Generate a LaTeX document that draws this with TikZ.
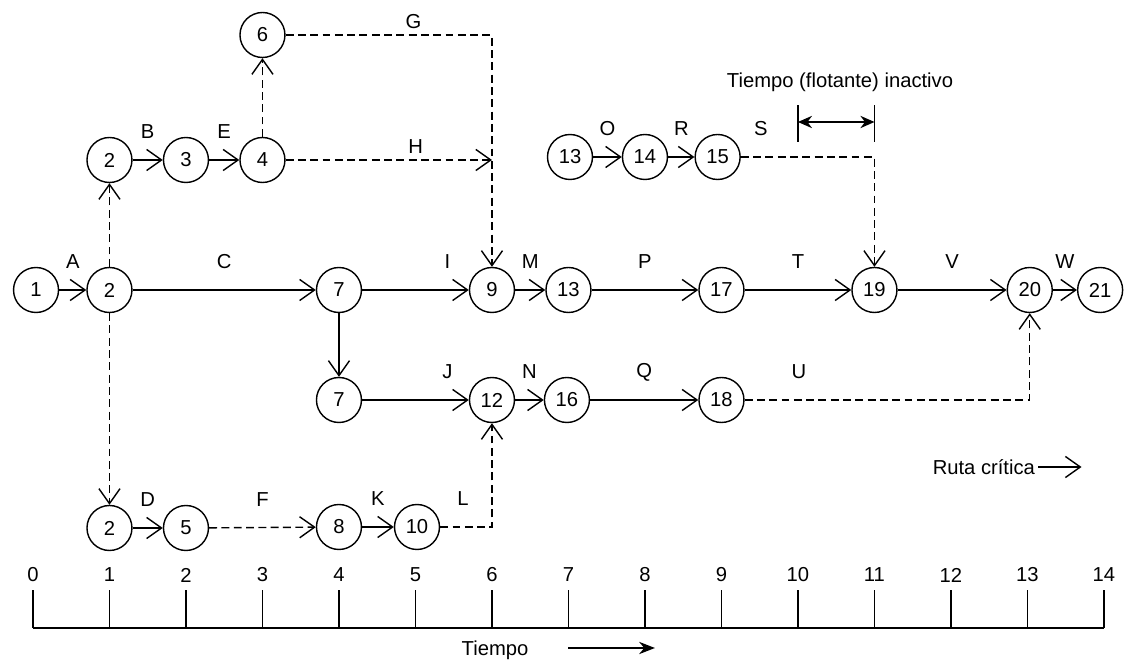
\documentclass[tikz,border=0pt]{standalone}
\usepackage{fontspec}
\setmainfont{Liberation Sans}
\usetikzlibrary{arrows.meta, positioning}

\begin{document}
\begin{tikzpicture}[->, >={Straight Barb[length=8.5pt,width=12pt]}, x=1.53cm, y=1cm, line width=0.8pt,
  font=\fontsize{11.5}{13}\selectfont]
\tikzstyle{event}=[circle, draw=black, minimum size=0.9cm, inner sep=0pt]
\tikzstyle{act}=[yshift=0.56cm]
\tikzstyle{actlow}=[yshift=0.27cm]
\tikzstyle{slack}=[dash pattern=on 4.5pt off 2.5pt]

\useasboundingbox (-0.431,0) rectangle (14.275,-13.26);

% eventos
\node[event] (1)   at (0.04,-5.8)  {1};
\node[event] (2)   at (1,-5.8)     {2};
\node[event] (2b)  at (1,-3.2)     {2};
\node[event] (3)   at (2,-3.2)     {3};
\node[event] (4)   at (3,-3.2)     {4};
\node[event] (6)   at (3,-0.7)     {6};
\node[event] (7)   at (4,-5.8)     {7};
\node[event] (9)   at (6,-5.8)     {9};
\node[event] (13)  at (7,-5.8)     {13};
\node[event] (17)  at (9,-5.8)     {17};
\node[event] (19)  at (11,-5.8)    {19};
\node[event] (20)  at (13.03,-5.8) {20};
\node[event] (21)  at (13.95,-5.8) {21};
\node[event] (13b) at (7.02,-3.14) {13};
\node[event] (14)  at (8,-3.14)    {14};
\node[event] (15)  at (8.95,-3.14) {15};
\node[event] (7b)  at (4,-8)       {7};
\node[event] (12)  at (6,-8)       {12};
\node[event] (16)  at (6.98,-8)    {16};
\node[event] (18)  at (9,-8)       {18};
\node[event] (2c)  at (1,-10.56)   {2};
\node[event] (5)   at (2,-10.56)   {5};
\node[event] (8)   at (4,-10.54)   {8};
\node[event] (10)  at (5.02,-10.54) {10};

% actividades
\path
(1)   edge node[act] {A} (2)
(2)   edge node[act] {C} (7)
(7)   edge node[act, pos=.8] {I} (9)
(9)   edge node[act] {M} (13)
(13)  edge node[act] {P} (17)
(17)  edge node[act] {T} (19)
(19)  edge node[act] {V} (20)
(20)  edge node[act] {W} (21)
(2b)  edge node[act] {B} (3)
(3)   edge node[act] {E} (4)
(13b) edge node[act] {O} (14)
(14)  edge node[act] {R} (15)
(7)   edge (7b)
(7b)  edge node[act, pos=.8] {J} (12)
(12)  edge node[act] {N} (16)
(16)  edge node[act] {Q} (18)
(2c)  edge node[act] {D} (5)
(8)   edge node[act] {K} (10);

% holguras
\draw[slack] (2) -- (2b);
\draw[slack] (2) -- (2c);
\draw[slack] (4) -- (6);
\draw[slack] (6) -- node[actlow, pos=.62] {G} (6 -| 9) -- (9);
\draw[slack] (4) -- node[actlow, pos=.63] {H} (4 -| 9);
\draw[slack] (15) -- node[act, pos=.15] {S} (15 -| 19) -- (19);
\draw[slack] (18) -- node[act, pos=.19] {U} (18 -| 20) -- (20);
\draw[slack] (5) -- node[act] {F} (8);
\draw[slack] (10) -- node[act, pos=.44] {L} (10 -| 12) -- (12);

% tiempo inactivo
\coordinate (fa) at (10,-2.1);
\coordinate (fb) at (11,-2.1);
\draw[-] (10,-2.84) -- (fa);
\draw[-] (11,-2.84) -- (fb);
\draw[{Stealth[length=8pt,width=7pt]}-{Stealth[length=8pt,width=7pt]}] (10,-2.44) -- (11,-2.44);
\node (flot) at (10.55,-1.64) {Tiempo (flotante) inactivo};

% leyenda
\node (ruta) at (12.43,-9.34) {Ruta crítica};
\coordinate[right=0.8cm of ruta.east] (rutafin);
\draw ([xshift=-2pt]ruta.east) -- (rutafin);

% eje de tiempo
\draw[-] (0,-12.56) -- (14,-12.56);
\foreach \t in {0,...,14} {
  \draw[-] (\t,-12.56) -- (\t,-11.8);
  \node (t\t) at (\t,-11.5) {\t};
}
\node (eje) at (6.04,-13) {Tiempo};
\coordinate (ejea) at (7,-12.96);
\coordinate (ejeb) at (8.13,-12.96);
\draw[-{Stealth[length=9pt,width=7pt]}] (ejea) -- (ejeb);
\end{tikzpicture}
\end{document}
